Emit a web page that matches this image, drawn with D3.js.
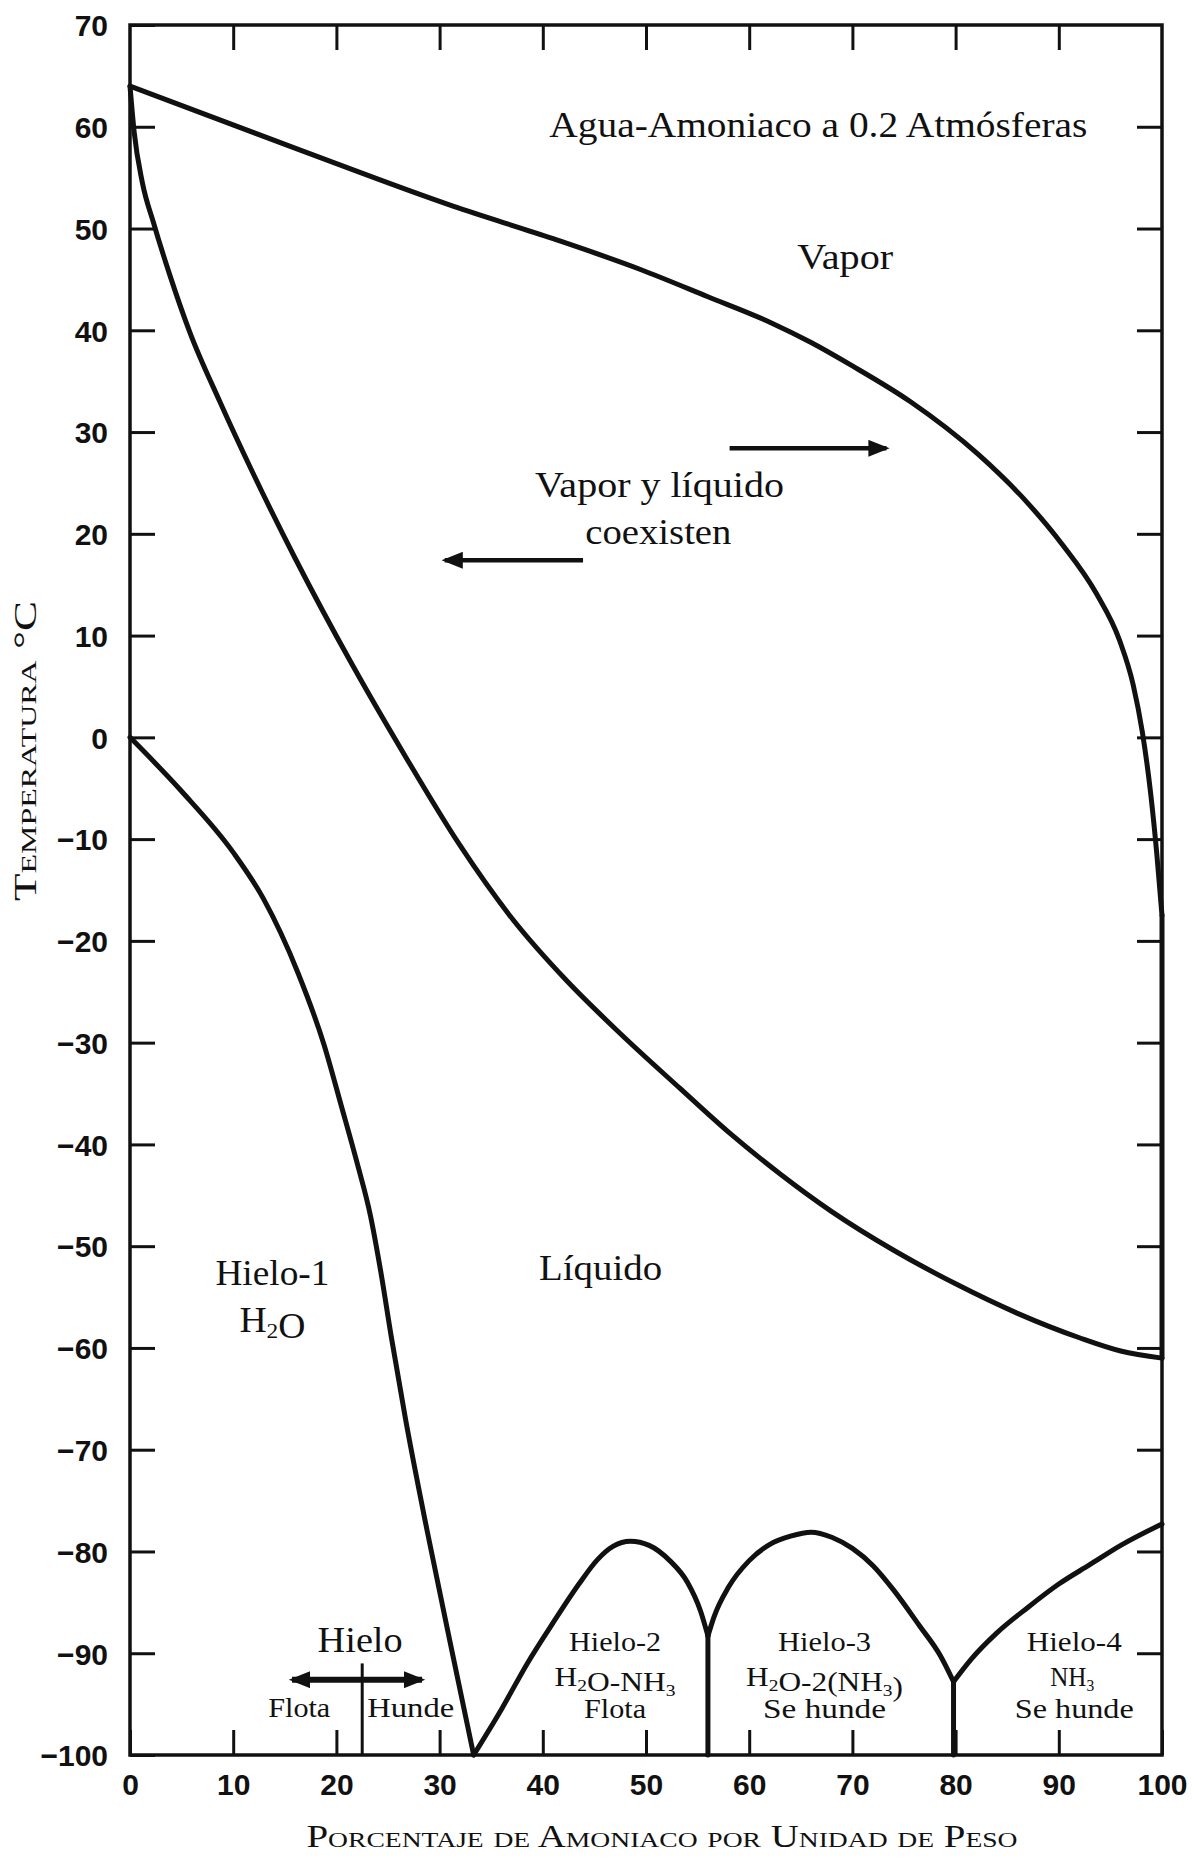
<!DOCTYPE html>
<html><head><meta charset="utf-8">
<script src="https://cdn.jsdelivr.net/npm/d3@7"></script>
<style>
html,body{margin:0;padding:0;background:#fff;}
svg{display:block;}
.lbl{font-family:"Liberation Serif","DejaVu Serif",serif;fill:#111;}
.tick text{font-family:"Liberation Sans",Arial,sans-serif;font-weight:bold;fill:#111;}
</style></head><body>
<svg id="chart" width="1194" height="1861"></svg>
<script>
// ---- data ----
const xTickValues=[0,10,20,30,40,50,60,70,80,90,100];
const yTickValues=[70,60,50,40,30,20,10,0,-10,-20,-30,-40,-50,-60,-70,-80,-90,-100];

const vaporCurve=[[0,64],[16.5,57.7],[31.3,52.2],[41,49.0],[49.4,46.0],[56,43.3],[62,40.8],[66,38.8],[70,36.5],[75.6,33.0],[82.2,27.8],[87.1,22.9],[90.3,19.0],[93.6,14.2],[95.9,9.5],[97.2,5.2],[98.1,0.5],[98.9,-5.5],[99.5,-11.5],[100,-17.5]];
const vaporAxisTail=[[100,-17.5],[100,-61]];
const liquidCurve=[[0,64],[0.4,59.5],[1.2,54.5],[2.3,50.5],[3.9,45.3],[5.8,39.8],[8.7,33.0],[11.9,26.0],[16.0,17.6],[21.5,7.2],[26.7,-1.9],[31.9,-10.5],[37.1,-17.9],[42.3,-23.9],[47.5,-29.1],[53.3,-34.5],[58,-38.8],[63,-42.9],[68,-46.6],[74,-50.4],[80,-53.7],[86,-56.6],[92,-59],[96,-60.3],[100,-61]];
const ice1Curve=[[0,0],[5,-5.3],[10,-11.3],[12.9,-15.8],[16.3,-23.2],[18.8,-30.2],[20.5,-36.3],[22,-41.8],[23.3,-47],[24.3,-52.5],[25.3,-58.8],[26.7,-67],[28.8,-78],[31.2,-89.8],[33.3,-100]];
const ice2Curve=[[33.3,-100],[36,-95.5],[38.5,-91],[41,-87],[43.5,-83.2],[45.3,-80.8],[46.8,-79.5],[48.5,-79],[50.3,-79.4],[52.3,-80.9],[54,-83],[55.3,-85.9],[56,-88.3]];
const ice3Curve=[[56,-88.3],[56.6,-86.4],[58,-83.5],[60,-80.9],[62,-79.3],[64,-78.5],[66,-78.1],[68,-78.6],[70,-79.7],[72,-81.4],[74,-83.8],[76.5,-87.3],[78.5,-90.2],[79.8,-92.8]];
const ice4Curve=[[79.8,-92.8],[81.5,-90.6],[84,-88],[87,-85.5],[90,-83.2],[93,-81.3],[96,-79.4],[100,-77.3]];
const eutecticVerticals=[[[56,-88.3],[56,-100]],[[79.8,-92.8],[79.8,-100]]];
const densityDivider=[[22.5,-91],[22.5,-100]];
const arrows=[
  {from:[43.9,17.4],to:[30.5,17.4],both:false},
  {from:[58.1,28.4],to:[73.3,28.4],both:false},
  {from:[15.7,-92.6],to:[28.3,-92.6],both:true}
];
const bigLabels=[
  {text:"Agua-Amoniaco a 0.2 Atmósferas",p:66.7,t:59.0,w:538},
  {text:"Vapor",p:69.3,t:46.0,w:96},
  {text:"Vapor y líquido",p:51.3,t:23.6,w:249},
  {text:"coexisten",p:51.2,t:19.0,w:146},
  {text:"Líquido",p:45.6,t:-53.3,w:123},
  {text:"Hielo-1",p:13.8,t:-53.8,w:114},
  {text:"H_2O",p:13.8,t:-58.4,w:66},
  {text:"Hielo",p:22.3,t:-89.9,w:85}
];
const smallLabels=[
  {text:"Flota",p:16.4,t:-96.3,w:62},
  {text:"Hunde",p:27.2,t:-96.3,w:87},
  {text:"Hielo-2",p:47.0,t:-89.8,w:92},
  {text:"H_2O-NH_3",p:47.0,t:-93.2,w:121},
  {text:"Flota",p:47.0,t:-96.4,w:62},
  {text:"Hielo-3",p:67.3,t:-89.8,w:93},
  {text:"H_2O-2(NH_3)",p:67.3,t:-93.2,w:157},
  {text:"Se hunde",p:67.3,t:-96.4,w:123},
  {text:"Hielo-4",p:91.5,t:-89.8,w:95},
  {text:"NH_3",p:91.3,t:-93.2,w:44},
  {text:"Se hunde",p:91.5,t:-96.4,w:119}
];
const yTitle="Temperatura °C";
const xTitle="Porcentaje de Amoniaco por Unidad de Peso";

// ---- drawing ----
const svg=d3.select("#chart");
const L=130,R=1162,T=25,B=1755;
const x=d3.scaleLinear().domain([0,100]).range([L,R]);
const y=d3.scaleLinear().domain([-100,70]).range([B,T]);
const ink="#111";

const gL=svg.append("g").attr("transform",`translate(${L},0)`)
  .call(d3.axisLeft(y).tickValues(yTickValues).tickSize(-25).tickPadding(22).tickFormat(d3.format("d")));
const gB=svg.append("g").attr("transform",`translate(0,${B})`)
  .call(d3.axisBottom(x).tickValues(xTickValues).tickSize(-25).tickPadding(19).tickFormat(d3.format("d")));
const gT=svg.append("g").attr("transform",`translate(0,${T})`)
  .call(d3.axisTop(x).tickValues(xTickValues.slice(1,-1)).tickSize(-25).tickFormat(""));
const gR=svg.append("g").attr("transform",`translate(${R},0)`)
  .call(d3.axisRight(y).tickValues(yTickValues.slice(1,-1)).tickSize(-25).tickFormat(""));
[gL,gB,gT,gR].forEach(g=>{
  g.select(".domain").remove();
  g.selectAll(".tick line").attr("stroke",ink).attr("stroke-width",3);
  g.selectAll(".tick text").attr("font-size",30).attr("fill",ink);
});
gL.selectAll(".tick text").attr("dy","0.36em");

svg.append("rect").attr("x",L).attr("y",T).attr("width",R-L).attr("height",B-T)
  .attr("fill","none").attr("stroke",ink).attr("stroke-width",3.5);

const smooth=d3.line().x(d=>x(d[0])).y(d=>y(d[1])).curve(d3.curveMonotoneX);
const straight=d3.line().x(d=>x(d[0])).y(d=>y(d[1]));
const cg=svg.append("g").attr("fill","none").attr("stroke",ink).attr("stroke-width",5)
  .attr("stroke-linejoin","round").attr("stroke-linecap","round");
[vaporCurve,liquidCurve,ice1Curve,ice2Curve,ice3Curve,ice4Curve].forEach(c=>cg.append("path").attr("d",smooth(c)));
cg.append("path").attr("d",straight(vaporAxisTail));
eutecticVerticals.forEach(v=>cg.append("path").attr("d",straight(v)));
svg.append("path").attr("d",straight(densityDivider)).attr("stroke",ink).attr("stroke-width",3).attr("fill","none");

const defs=svg.append("defs");
defs.append("marker").attr("id","ah").attr("markerUnits","userSpaceOnUse")
  .attr("viewBox","0 0 20 16").attr("refX",17).attr("refY",8)
  .attr("markerWidth",22).attr("markerHeight",17).attr("orient","auto-start-reverse")
  .append("path").attr("d","M0,0 L20,8 L0,16 Z").attr("fill",ink);
arrows.forEach(a=>{
  const l=svg.append("line").attr("x1",x(a.from[0])).attr("y1",y(a.from[1]))
    .attr("x2",x(a.to[0])).attr("y2",y(a.to[1])).attr("stroke",ink)
    .attr("stroke-width",a.both?6:4.5).attr("marker-end","url(#ah)");
  if(a.both) l.attr("marker-start","url(#ah)");
});

function addLabel(d,size){
  const t=svg.append("text").attr("class","lbl").attr("x",x(d.p)).attr("y",y(d.t))
    .attr("text-anchor","middle").attr("font-size",size)
    .attr("textLength",d.w).attr("lengthAdjust","spacingAndGlyphs");
  const parts=d.text.split(/(_\d)/).filter(s=>s.length);
  parts.forEach(s=>{
    if(s[0]==="_"){
      t.append("tspan").attr("dy","0.3em").attr("font-size",size*0.62).text(s.slice(1));
      t.append("tspan").attr("dy","-0.3em").text("");
    } else t.append("tspan").text(s);
  });
}
bigLabels.forEach(d=>addLabel(d,35));
smallLabels.forEach(d=>addLabel(d,27));

svg.append("text").attr("class","lbl").attr("transform","translate(36,751) rotate(-90)")
  .attr("text-anchor","middle").attr("font-size",31).style("font-variant","small-caps")
  .attr("textLength",300).attr("lengthAdjust","spacingAndGlyphs").text(yTitle);
svg.append("text").attr("class","lbl").attr("x",662).attr("y",1847)
  .attr("text-anchor","middle").attr("font-size",31).style("font-variant","small-caps")
  .attr("textLength",711).attr("lengthAdjust","spacingAndGlyphs").text(xTitle);
</script>
</body></html>
